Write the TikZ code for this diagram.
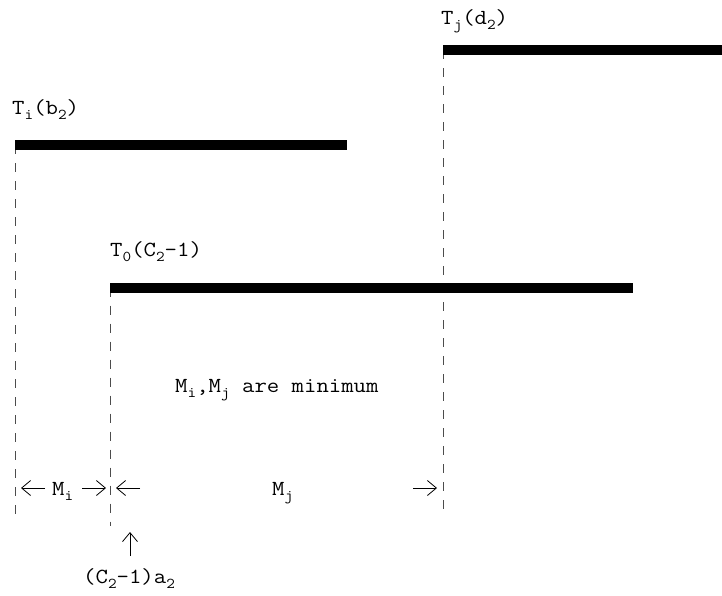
\documentclass[tikz,border=0pt]{standalone}
\usepackage{fontspec}
\setmonofont{Latin Modern Mono}[FakeStretch=1.12]
\usetikzlibrary{arrows.meta}
\newcommand\sbs[1]{\raisebox{-5.5pt}{\fontsize{15}{16}\selectfont #1}}
\tikzset{
  bar/.style={line width=10pt},
  guide/.style={line width=0.9pt, draw=black!70, dash pattern=on 9pt off 9pt},
  lbl/.style={anchor=base west, inner sep=0pt, font=\ttfamily\fontsize{21.5}{24}\selectfont},
  dim/.style={line width=0.8pt, -{Straight Barb[length=9pt,width=15pt,line width=0.8pt]}}
}
\begin{document}
\begin{tikzpicture}[x=1pt,y=-1pt]
\useasboundingbox (0,0) rectangle (722,595);
% bar end points
\coordinate (tia) at (15,145);
\coordinate (tib) at (347,145);
\coordinate (tja) at (443,50);
\coordinate (tjb) at (722,50);
\coordinate (t0a) at (110,287.5);
\coordinate (t0b) at (633,287.5);
% guide ends
\coordinate (gi) at (15,516);
\coordinate (g0) at (110,526);
\coordinate (gj) at (443,516);
% guides
\draw[guide] (tia) -- (gi);
\draw[guide] (t0a) -- (g0);
\draw[guide] (tja) -- (gj);
% bars
\draw[bar] (tia) -- (tib);
\draw[bar] (tja) -- (tjb);
\draw[bar] (t0a) -- (t0b);
% labels
\node[lbl] (li) at (12,114) {T\sbs{i}(b\sbs{2})};
\node[lbl] (lj) at (441,24) {T\sbs{j}(d\sbs{2})};
\node[lbl] (l0) at (110,256) {T\sbs{0}(C\sbs{2}-1)};
\node[lbl] (note) at (175,392) {M\sbs{i},M\sbs{j} are minimum};
\node[lbl] (mi) at (52,495) {M\sbs{i}};
\node[lbl] (mj) at (272,495) {M\sbs{j}};
\node[lbl] (ca) at (83,583) {(C\sbs{2}-1)a\sbs{2}};
% dimension arrows
\coordinate (a1s) at (45,488);  \coordinate (a1e) at (21,488);
\coordinate (a2s) at (82,488);  \coordinate (a2e) at (106,488);
\coordinate (a3s) at (140,488); \coordinate (a3e) at (116,488);
\coordinate (a4s) at (413,488); \coordinate (a4e) at (437,488);
\coordinate (ups) at (130,556); \coordinate (upe) at (130,532);
\draw[dim] (a1s) -- (a1e);
\draw[dim] (a2s) -- (a2e);
\draw[dim] (a3s) -- (a3e);
\draw[dim] (a4s) -- (a4e);
\draw[dim] (ups) -- (upe);
\end{tikzpicture}
\end{document}
